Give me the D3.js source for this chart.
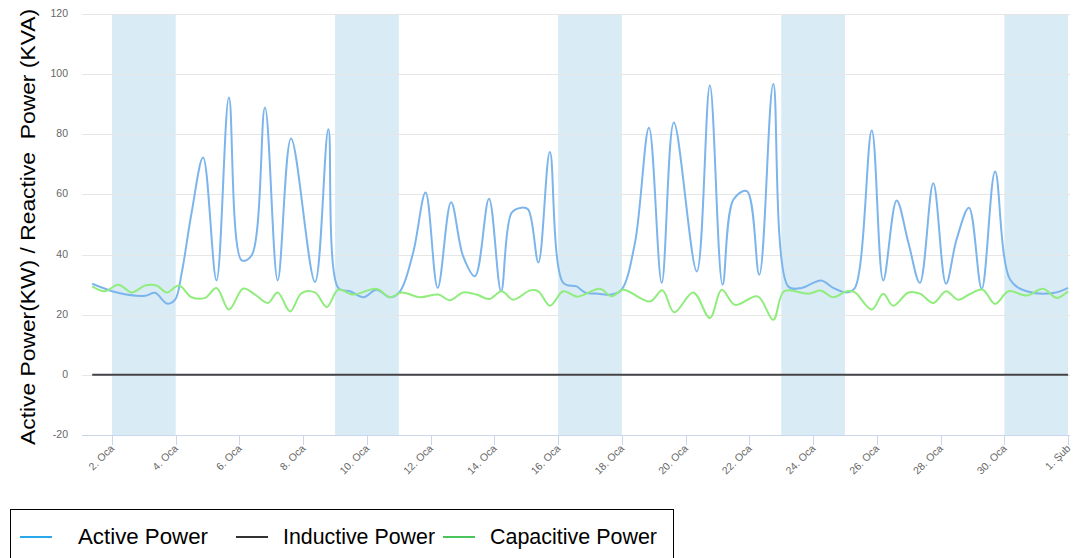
<!DOCTYPE html>
<html>
<head>
<meta charset="utf-8">
<script src="https://cdn.jsdelivr.net/npm/d3@7"></script>
<style>
  body { margin: 0; background: #fff; }
  svg { display: block; font-family: 'Liberation Sans', Arial, sans-serif; }
  .tick-label { fill: #666; font-size: 10.5px; }
</style>
</head>
<body>
<svg id="chart" width="1073" height="558"></svg>
<script>
// day of January 2016 (fractional), 32 = 1 Feb
const activeDays = [1.38, 2.19, 3.04, 3.35, 3.73, 3.98, 4.19, 4.5, 4.86, 5.28, 5.67, 6.07, 6.38, 6.8, 7.2, 7.62, 8.37, 8.79,
  9.1, 9.47, 9.89, 10.3, 10.72, 11.04, 11.45, 11.84, 12.22, 12.64, 13.02, 13.39, 13.83, 14.21, 14.54, 14.85, 15.06, 15.38, 15.74, 16.16,
  16.58, 16.84, 17.26, 17.68, 17.99, 18.41, 18.85, 19.25, 19.63, 20.35, 20.76, 21.16, 21.5, 21.92, 22.31, 22.75, 23.22, 23.64,
  24.25, 24.63, 25.05, 25.31, 25.84, 26.2, 26.62, 26.99, 27.35, 27.77, 28.17, 28.5, 28.89, 29.29, 29.71, 30.18, 30.7, 31.54, 32.0]
const activeValues = [30.3, 27.3, 26.3, 27.3, 23.7, 25, 34, 54, 72.3, 31.4, 92.2, 38.1, 39.7, 88.9, 31.4, 78.6, 30.9, 81.7,
  28.9, 27.8, 25.8, 28.3, 25.8, 27.8, 40.6, 60.6, 28.9, 57.4, 39.4, 32.8, 58.6, 27.8, 53.9, 55.6, 55, 37.4, 74.1, 30.6,
  29.4, 27.4, 27, 26.7, 28.3, 43.9, 82.2, 30.6, 83.9, 34.4, 96.3, 30, 58.3, 61.1, 33.3, 96.7, 29.4, 28.9,
  31.4, 28.9, 27.4, 28.9, 81.3, 31.4, 58, 43.9, 30.6, 63.7, 30.3, 45, 55.6, 28.6, 67.6, 31.7, 27.8, 27.2, 28.9]

const capacitiveDays = [1.38, 1.78, 2.2, 2.62, 3.04, 3.4, 3.72, 4.1, 4.5, 4.92, 5.28, 5.67, 6.12, 6.49, 6.89, 7.2, 7.59, 7.95, 8.37, 8.74,
  9.1, 9.57, 10.3, 10.72, 11.09, 11.66, 12.24, 12.6, 13.02, 13.44, 13.84, 14.23, 14.59, 15.12, 15.38, 15.74, 16.16,
  16.6, 17.31, 17.68, 18.04, 18.88, 19.27, 19.64, 20.24, 20.76, 21.13, 21.55, 22.26, 22.75, 23.09, 23.85,
  24.25, 24.63, 25.05, 25.31, 25.84, 26.2, 26.51, 26.99, 27.35, 27.77, 28.17, 28.55, 28.92, 29.32, 29.71, 30.13, 30.7, 31.22, 31.64, 32.0]
const capacitiveValues = [29.4, 27.8, 30, 27.4, 29.7, 29.7, 27.4, 29.7, 25.8, 25.6, 28.9, 21.7, 28.7, 26.7, 23.9, 27.4, 21.1, 27.2, 27.4, 22.6,
  28.3, 26.7, 28.6, 25.8, 27.4, 25.8, 26.7, 24.8, 27.4, 26.7, 25.2, 27.8, 25, 28.1, 27.8, 23, 27.8,
  26, 28.6, 26.1, 28.3, 24.4, 28.1, 20.8, 27.4, 18.9, 28.3, 23.3, 26.1, 18.3, 27.8, 27,
  28, 25.8, 27.8, 27.4, 21.7, 27, 23, 27.4, 27, 23.9, 27.8, 25, 26.9, 28.3, 23.6, 27.8, 26.4, 28.6, 25.6, 27.8]

const inductiveDays = [1.38, 32.0]
const inductiveValues = [0, 0]

const weekendStarts = [2, 9, 16, 23, 30]
const tickDays = [2, 4, 6, 8, 10, 12, 14, 16, 18, 20, 22, 24, 26, 28, 30, 32]
const tickLabels = ['2. Oca', '4. Oca', '6. Oca', '8. Oca', '10. Oca', '12. Oca', '14. Oca', '16. Oca',
  '18. Oca', '20. Oca', '22. Oca', '24. Oca', '26. Oca', '28. Oca', '30. Oca', '1. Şub']
const yTicks = [-20, 0, 20, 40, 60, 80, 100, 120]

const seriesNames = ['Active Power', 'Inductive Power', 'Capacitive Power']
const seriesColors = ['#7cb5ec', '#434348', '#90ed7d']
const legendColors = ['#29a8ea', '#333333', '#4cc45c']

const toDate = d => new Date(Date.UTC(2016, 0, 1) + (d - 1) * 864e5)

const svg = d3.select('#chart')
const margin = { top: 14, right: 3, bottom: 123, left: 82 }
const w = 1073 - margin.left - margin.right
const h = 558 - margin.top - margin.bottom

const x = d3.scaleUtc().domain([toDate(1.06), toDate(32.06)]).range([margin.left, margin.left + w])
const y = d3.scaleLinear().domain([-20, 120]).range([margin.top + h, margin.top])

// weekend bands
svg.append('g')
  .selectAll('rect')
  .data(weekendStarts)
  .enter()
  .append('rect')
  .attr('x', d => x(toDate(d)))
  .attr('y', margin.top)
  .attr('width', d => x(toDate(d + 2)) - x(toDate(d)))
  .attr('height', h)
  .attr('fill', '#d9ebf5')

// grid + y labels
const yAxis = svg.append('g')
yAxis.selectAll('line')
  .data(yTicks.filter(d => d !== -20))
  .enter()
  .append('line')
  .attr('x1', margin.left)
  .attr('x2', margin.left + w)
  .attr('y1', d => Math.round(y(d)) + 0.5)
  .attr('y2', d => Math.round(y(d)) + 0.5)
  .attr('stroke', '#e6e6e6')

yAxis.selectAll('text')
  .data(yTicks)
  .enter()
  .append('text')
  .attr('class', 'tick-label')
  .attr('x', 68)
  .attr('y', d => y(d) + 3)
  .attr('text-anchor', 'end')
  .text(d => d)

// x axis
const xAxis = svg.append('g').attr('transform', `translate(0,${margin.top + h})`)
xAxis.append('line')
  .attr('x1', margin.left)
  .attr('x2', margin.left + w)
  .attr('y1', 0.5)
  .attr('y2', 0.5)
  .attr('stroke', '#ccd6eb')

xAxis.selectAll('.tk')
  .data(tickDays)
  .enter()
  .append('line')
  .attr('class', 'tk')
  .attr('x1', d => Math.round(x(toDate(d))) + 0.5)
  .attr('x2', d => Math.round(x(toDate(d))) + 0.5)
  .attr('y1', 0)
  .attr('y2', 10)
  .attr('stroke', '#ccd6eb')

xAxis.selectAll('text')
  .data(tickDays)
  .enter()
  .append('text')
  .attr('class', 'tick-label')
  .attr('text-anchor', 'end')
  .attr('transform', d => `translate(${x(toDate(d)) + 3},${14}) rotate(-45)`)
  .text((d, i) => tickLabels[i])

// series
const line = d3.line()
  .x(d => x(toDate(d[0])))
  .y(d => y(d[1]))
  .curve(d3.curveCatmullRom.alpha(0.5))

const seriesData = [
  d3.zip(activeDays, activeValues),
  d3.zip(inductiveDays, inductiveValues),
  d3.zip(capacitiveDays, capacitiveValues)
]

svg.append('g')
  .selectAll('path')
  .data([0, 2, 1])
  .enter()
  .append('path')
  .attr('d', i => line(seriesData[i]))
  .attr('fill', 'none')
  .attr('stroke', i => seriesColors[i])
  .attr('stroke-width', 2)
  .attr('stroke-linejoin', 'round')

// y title
svg.append('text')
  .attr('transform', `translate(35,${227}) rotate(-90)`)
  .attr('text-anchor', 'middle')
  .style('font-size', '21px')
  .style('fill', '#000')
  .style('white-space', 'pre')
  .attr('textLength', 436)
  .attr('lengthAdjust', 'spacingAndGlyphs')
  .text('Active Power(KW) / Reactive  Power (KVA)')

// legend
const legend = svg.append('g')
legend.append('rect')
  .attr('x', 10.5)
  .attr('y', 509.5)
  .attr('width', 663)
  .attr('height', 60)
  .attr('fill', 'none')
  .attr('stroke', '#000')

const legendX = [20, 236, 443]
const legendTextLen = [130, 152, 167]
const legendItem = legend.selectAll('.item')
  .data(seriesNames)
  .enter()
  .append('g')
  .attr('class', 'item')
  .attr('transform', (d, i) => `translate(${legendX[i]},${537})`)

legendItem.append('line')
  .attr('x1', 0)
  .attr('x2', 32)
  .attr('stroke', (d, i) => legendColors[i])
  .attr('stroke-width', 2)

legendItem.append('text')
  .attr('x', (d, i) => i === 0 ? 58 : 47)
  .attr('y', 7)
  .style('font-size', '22px')
  .style('fill', '#000')
  .attr('textLength', (d, i) => legendTextLen[i])
  .attr('lengthAdjust', 'spacingAndGlyphs')
  .text(d => d)
</script>
</body>
</html>
